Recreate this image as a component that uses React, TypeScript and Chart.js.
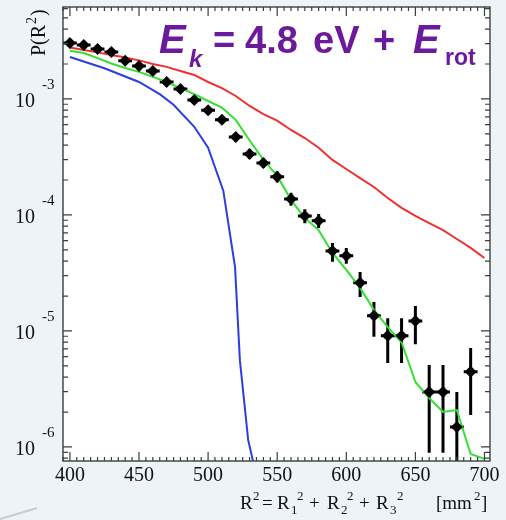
import React, { useEffect, useRef } from "react";
import { Chart, registerables } from "chart.js";

Chart.register(...registerables);

// ---- data ----
const binX = [400, 410, 420, 430, 440, 450, 460, 470, 480, 490, 500, 510, 520, 530, 540, 550, 560, 570, 580, 590, 600, 610, 620, 630, 640, 650, 660, 670, 680, 690];
const measured = [3.04e-3, 2.92e-3, 2.7e-3, 2.54e-3, 2.13e-3, 1.92e-3, 1.74e-3, 1.4e-3, 1.22e-3, 9.8e-4, 8.0e-4, 6.6e-4, 4.7e-4, 3.36e-4, 2.81e-4, 2.13e-4, 1.37e-4, 9.8e-5, 8.9e-5, 4.9e-5, 4.44e-5, 2.6e-5, 1.35e-5, 9.1e-6, 9.1e-6, 1.22e-5, 2.98e-6, 2.98e-6, 1.49e-6, 4.44e-6];
const errHigh = [3.15e-3, 3.03e-3, 2.8e-3, 2.64e-3, 2.22e-3, 2.0e-3, 1.82e-3, 1.47e-3, 1.29e-3, 1.04e-3, 8.6e-4, 7.1e-4, 5.1e-4, 3.7e-4, 3.1e-4, 2.38e-4, 1.55e-4, 1.12e-4, 1.02e-4, 5.74e-5, 5.2e-5, 3.23e-5, 1.78e-5, 1.29e-5, 1.29e-5, 1.64e-5, 5.1e-6, 5.1e-6, 2.98e-6, 7.13e-6];
const errLow = [2.93e-3, 2.81e-3, 2.6e-3, 2.44e-3, 2.04e-3, 1.84e-3, 1.66e-3, 1.33e-3, 1.15e-3, 9.2e-4, 7.4e-4, 6.1e-4, 4.3e-4, 3.05e-4, 2.55e-4, 1.9e-4, 1.2e-4, 8.5e-5, 7.7e-5, 3.94e-5, 3.8e-5, 1.96e-5, 8.9e-6, 5.3e-6, 5.3e-6, 7.7e-6, 8.9e-7, 8.9e-7, 1e-7, 1.89e-6];
const binHalfWidth = 5;

const modelX = [400, 410, 420, 430, 440, 450, 460, 470, 480, 490, 500, 510, 520, 530, 540, 550, 560, 570, 580, 590, 600, 610, 620, 630, 640, 650, 660, 670, 680, 690, 700];
const redModel = [2.78e-3, 2.64e-3, 2.52e-3, 2.39e-3, 2.28e-3, 2.15e-3, 2.0e-3, 1.89e-3, 1.74e-3, 1.61e-3, 1.4e-3, 1.24e-3, 1.06e-3, 8.7e-4, 7.4e-4, 6.5e-4, 5.4e-4, 4.6e-4, 3.8e-4, 2.98e-4, 2.49e-4, 2.08e-4, 1.74e-4, 1.4e-4, 1.15e-4, 9.8e-5, 8.5e-5, 7.4e-5, 6.2e-5, 5.2e-5, 4.26e-5];
const greenModel = [2.6e-3, 2.49e-3, 2.25e-3, 2.02e-3, 1.85e-3, 1.71e-3, 1.55e-3, 1.4e-3, 1.24e-3, 1.1e-3, 9.6e-4, 8.4e-4, 6.6e-4, 4.4e-4, 2.98e-4, 2.17e-4, 1.35e-4, 9.4e-5, 7.4e-5, 4.7e-5, 3.36e-5, 2.35e-5, 1.52e-5, 1.08e-5, 8.0e-6, 3.63e-6, 2.64e-6, 2.0e-6, 2.08e-6, 8.7e-7, 7.9e-7];
const blueX = [400, 425, 450, 465, 475, 490, 500, 508, 511, 519.5, 523, 529, 533, 537];
const blueModel = [2.3e-3, 1.84e-3, 1.4e-3, 1.1e-3, 8.9e-4, 5.75e-4, 3.8e-4, 2.04e-4, 1.62e-4, 3.55e-5, 5.6e-6, 1.15e-6, 7.1e-7, 4e-7];

const xTickValues = [400, 450, 500, 550, 600, 650, 700];
const yTickValues = [1e-3, 1e-4, 1e-5, 1e-6];
const yTickExponents = ["-3", "-4", "-5", "-6"];
const xAxisMin = 395;
const xAxisMax = 704;
const yAxisMin = 7.57e-7;
const yAxisMax = 6.2e-3;

const SERIF = "'Liberation Serif', 'Times New Roman', serif";
const SANS = "'Liberation Sans', Arial, sans-serif";

const rootStyle = {
  id: "rootStyle",
  beforeDraw(chart: any) {
    const { ctx, chartArea: a, width, height } = chart;
    ctx.save();
    ctx.fillStyle = "#edf3f7";
    ctx.fillRect(0, 0, width, height);
    ctx.fillStyle = "#ffffff";
    ctx.fillRect(a.left, a.top, a.right - a.left, a.bottom - a.top);
    ctx.strokeStyle = "#c8cccf";
    ctx.lineWidth = 2;
    ctx.beginPath();
    ctx.moveTo(0, 519);
    ctx.lineTo(37, 508);
    ctx.stroke();
    ctx.restore();
  },
  beforeDatasetsDraw(chart: any) {
    const { ctx, chartArea: a } = chart;
    const xs = chart.scales.x;
    const ys = chart.scales.y;
    ctx.save();
    ctx.beginPath();
    ctx.rect(a.left, a.top, a.right - a.left, a.bottom - a.top);
    ctx.clip();
    ctx.strokeStyle = "#000";
    ctx.lineWidth = 3;
    binX.forEach((xv, i) => {
      const px = xs.getPixelForValue(xv);
      const py = ys.getPixelForValue(measured[i]);
      ctx.beginPath();
      ctx.moveTo(px, ys.getPixelForValue(errHigh[i]));
      ctx.lineTo(px, ys.getPixelForValue(errLow[i]));
      ctx.moveTo(xs.getPixelForValue(xv - binHalfWidth), py);
      ctx.lineTo(xs.getPixelForValue(xv + binHalfWidth), py);
      ctx.stroke();
    });
    ctx.restore();
  },
  afterDraw(chart: any) {
    const { ctx, chartArea: a } = chart;
    const xs = chart.scales.x;
    const ys = chart.scales.y;
    ctx.save();
    // frame
    ctx.strokeStyle = "#36403c";
    ctx.lineWidth = 1.4;
    ctx.strokeRect(a.left, a.top, a.right - a.left, a.bottom - a.top);
    // x ticks (bottom + top, inward)
    ctx.lineWidth = 1.2;
    ctx.beginPath();
    for (let v = 395; v <= xAxisMax; v += 5) {
      const px = xs.getPixelForValue(v);
      const len = v % 50 === 0 ? 9 : 4;
      ctx.moveTo(px, a.bottom);
      ctx.lineTo(px, a.bottom - len);
      ctx.moveTo(px, a.top);
      ctx.lineTo(px, a.top + len);
    }
    // y ticks (left + right, inward)
    for (let d = -7; d <= -2; d++) {
      for (let m = 1; m <= 9; m++) {
        const v = m * Math.pow(10, d);
        if (v < yAxisMin || v > yAxisMax) continue;
        const py = ys.getPixelForValue(v);
        const len = m === 1 ? 9 : 5;
        ctx.moveTo(a.left, py);
        ctx.lineTo(a.left + len, py);
        ctx.moveTo(a.right, py);
        ctx.lineTo(a.right - len, py);
      }
    }
    ctx.stroke();

    // y tick labels 10^-n
    ctx.fillStyle = "#111";
    yTickValues.forEach((v, i) => {
      const py = ys.getPixelForValue(v);
      ctx.font = `20px ${SERIF}`;
      ctx.textAlign = "right";
      ctx.textBaseline = "alphabetic";
      ctx.fillText("10", 35, py + 8);
      ctx.font = `15px ${SERIF}`;
      ctx.textAlign = "left";
      ctx.fillText(yTickExponents[i], 42, py - 10);
    });

    // y axis title P(R^2), rotated
    ctx.save();
    ctx.translate(45, 56);
    ctx.rotate(-Math.PI / 2);
    ctx.textAlign = "left";
    ctx.textBaseline = "alphabetic";
    let cx = 0;
    ctx.font = `20px ${SERIF}`;
    ctx.fillText("P(R", cx, 0);
    cx += ctx.measureText("P(R").width;
    ctx.font = `14px ${SERIF}`;
    ctx.fillText("2", cx + 1, -9);
    cx += ctx.measureText("2").width + 2;
    ctx.font = `20px ${SERIF}`;
    ctx.fillText(")", cx, 0);
    ctx.restore();

    // x axis title: R^2 = R1^2 + R2^2 + R3^2   [mm^2]
    const xTitle: [string, string, number][] = [
      ["R", "n", 240], ["2", "sup", 253], ["=", "n", 262], ["R", "n", 277], ["1", "sub", 291], ["2", "sup", 297],
      ["+", "n", 309], ["R", "n", 327], ["2", "sub", 341], ["2", "sup", 347],
      ["+", "n", 359], ["R", "n", 376], ["3", "sub", 390], ["2", "sup", 397],
      ["[mm", "n", 436], ["2", "sup", 474], ["]", "n", 481],
    ];
    ctx.textAlign = "left";
    ctx.textBaseline = "alphabetic";
    const base = 509;
    xTitle.forEach(([t, k, x]) => {
      if (k === "n") {
        ctx.font = `19px ${SERIF}`;
        ctx.fillText(t, x, base);
      } else if (k === "sub") {
        ctx.font = `13px ${SERIF}`;
        ctx.fillText(t, x, base + 5);
      } else {
        ctx.font = `13px ${SERIF}`;
        ctx.fillText(t, x, base - 9);
      }
    });

    // title E_k = 4.8 eV + E_rot
    ctx.fillStyle = "#6c1a9c";
    const hb = 53;
    const title: [string, string, number][] = [
      ["E", "iE", 159], ["k", "ik", 189], ["=", "n", 213], ["4.8", "n", 245], ["eV", "n", 313], ["+", "n", 373],
      ["E", "iE", 413], ["rot", "r", 445],
    ];
    title.forEach(([t, k, x]) => {
      if (k === "iE") {
        ctx.font = `italic bold 40px ${SANS}`;
        ctx.fillText(t, x, hb);
      } else if (k === "ik") {
        ctx.font = `italic bold 24px ${SANS}`;
        ctx.fillText(t, x, hb + 14);
      } else if (k === "r") {
        ctx.font = `bold 23px ${SANS}`;
        ctx.fillText(t, x, hb + 12);
      } else {
        ctx.font = `bold 38px ${SANS}`;
        ctx.fillText(t, x, hb);
      }
    });
    ctx.restore();
  },
};

export default function App() {
  const ref = useRef<HTMLCanvasElement | null>(null);
  useEffect(() => {
    if (!ref.current) return;
    const toXY = (xsArr: number[], ysArr: number[]) => xsArr.map((x, i) => ({ x, y: ysArr[i] }));
    const chart = new Chart(ref.current, {
      type: "line",
      data: {
        datasets: [
          {
            label: "data",
            data: toXY(binX, measured),
            showLine: false,
            pointStyle: "rectRot",
            pointRadius: 6,
            pointBackgroundColor: "#000",
            pointBorderColor: "#000",
            pointBorderWidth: 0,
          },
          {
            label: "green",
            data: toXY(modelX, greenModel),
            borderColor: "#33e033",
            borderWidth: 2,
            pointRadius: 0,
            tension: 0,
          },
          {
            label: "red",
            data: toXY(modelX, redModel),
            borderColor: "#ee3030",
            borderWidth: 2,
            pointRadius: 0,
            tension: 0,
          },
          {
            label: "blue",
            data: toXY(blueX, blueModel),
            borderColor: "#2b3fe0",
            borderWidth: 2,
            pointRadius: 0,
            tension: 0,
          },
        ],
      } as any,
      options: {
        responsive: false,
        animation: false,
        devicePixelRatio: 1,
        layout: { padding: { left: 0, top: 7, right: 16, bottom: 0 } },
        plugins: { legend: { display: false }, tooltip: { enabled: false }, title: { display: false } },
        scales: {
          x: {
            type: "linear",
            min: xAxisMin,
            max: xAxisMax,
            grid: { display: false, drawTicks: false },
            border: { display: false },
            afterBuildTicks: (s: any) => {
              s.ticks = xTickValues.map((v) => ({ value: v }));
            },
            afterFit: (s: any) => {
              s.height = 59;
            },
            ticks: {
              color: "#111",
              font: { family: SERIF, size: 20 },
              padding: 3,
              maxRotation: 0,
              autoSkip: false,
            },
          },
          y: {
            type: "logarithmic",
            min: yAxisMin,
            max: yAxisMax,
            grid: { display: false, drawTicks: false },
            border: { display: false },
            ticks: { display: false },
            afterBuildTicks: (s: any) => {
              s.ticks = yTickValues.map((v) => ({ value: v }));
            },
            afterFit: (s: any) => {
              s.width = 63;
            },
          },
        },
      } as any,
      plugins: [rootStyle],
    });
    return () => chart.destroy();
  }, []);
  return (
    <div style={{ position: "absolute", left: 0, top: 0, width: 506, height: 520 }}>
      <canvas ref={ref} width={506} height={520} style={{ display: "block", width: 506, height: 520 }} />
    </div>
  );
}
